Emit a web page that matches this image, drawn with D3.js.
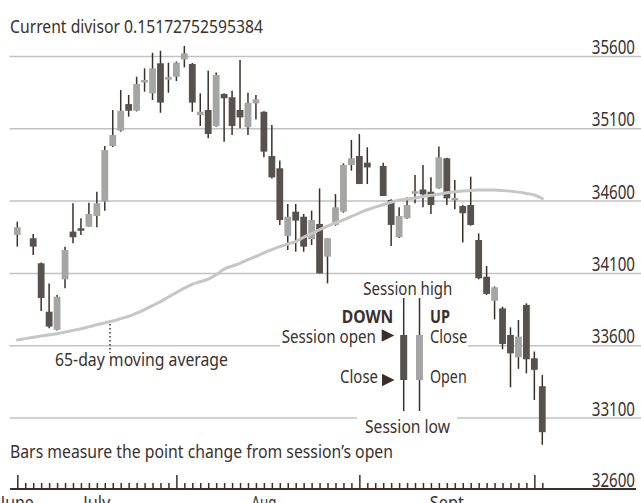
<!DOCTYPE html>
<html><head><meta charset="utf-8">
<script src="https://cdn.jsdelivr.net/npm/d3@7"></script>
<style>
body{margin:0;background:#fff}
svg{display:block}
text{font-family:"Noto Sans",sans-serif;fill:#3a312d}
</style>
</head><body>
<svg id="c" width="641" height="503"></svg>
<script>
// ---------- data ----------
const dates = ["2023-07-03","2023-07-05","2023-07-06","2023-07-07","2023-07-10","2023-07-11","2023-07-12","2023-07-13","2023-07-14",
"2023-07-17","2023-07-18","2023-07-19","2023-07-20","2023-07-21","2023-07-24","2023-07-25","2023-07-26","2023-07-27","2023-07-28",
"2023-07-31","2023-08-01","2023-08-02","2023-08-03","2023-08-04","2023-08-07","2023-08-08","2023-08-09","2023-08-10","2023-08-11",
"2023-08-14","2023-08-15","2023-08-16","2023-08-17","2023-08-18","2023-08-21","2023-08-22","2023-08-23","2023-08-24","2023-08-25",
"2023-08-28","2023-08-29","2023-08-30","2023-08-31","2023-09-01","2023-09-05","2023-09-06","2023-09-07","2023-09-08",
"2023-09-11","2023-09-12","2023-09-13","2023-09-14","2023-09-15","2023-09-18","2023-09-19","2023-09-20","2023-09-21","2023-09-22",
"2023-09-25","2023-09-26","2023-09-27","2023-09-28","2023-09-29","2023-10-02","2023-10-03"];
const openV  = [34366,34343,34170,33835,33709,34059,34389,34412,34423,34497,34596,34981,35087,35271,35225,35421,35345,35553,35442,
35460,35580,35548,35195,35230,35119,35341,35318,35230,35110,35276,35218,34912,34827,34359,34527,34492,34336,34442,34216,
34435,34527,34850,34912,34866,34843,34608,34350,34481,34654,34680,34665,34688,34896,34608,34566,34573,34331,34077,
33911,33858,33674,33520,33882,33513,33320];
const highV  = [34458,34373,34175,34031,33951,34285,34585,34481,34589,34665,34981,35230,35368,35334,35460,35518,35626,35640,35557,
35565,35673,35555,35345,35502,35490,35345,35364,35576,35350,35334,35222,35126,34880,34580,34580,34511,34534,34688,34343,
34649,34861,35023,35064,34972,34866,34612,34557,34626,34781,34850,34765,34977,34900,34746,34573,34769,34377,34151,
34010,33870,33727,33778,33893,33560,33398];
const lowV   = [34285,34227,33840,33720,33705,33997,34308,34366,34423,34419,34534,34975,35080,35184,35220,35357,35299,35211,35350,
35430,35525,35218,35119,35034,35115,35011,35057,35103,35057,35165,34903,34757,34435,34262,34250,34250,34296,34100,34031,
34430,34520,34810,34718,34718,34635,34290,34345,34478,34585,34557,34511,34685,34573,34543,34313,34430,34059,33951,
33782,33575,33312,33440,33409,33225,32915];
const closeV = [34419,34285,33930,33732,33939,34262,34350,34395,34511,34585,34953,35057,35225,35225,35410,35437,35518,35281,35456,
35557,35622,35281,35218,35064,35472,35311,35119,35179,35281,35304,34942,34764,34469,34492,34465,34285,34469,34100,34343,
34557,34850,34896,34718,34833,34635,34435,34497,34573,34665,34646,34573,34903,34619,34619,34516,34435,34066,33958,
34004,33612,33547,33663,33506,33433,33002];
const ma65   = [33640,33658,33667,33675,33683,33694,33706,33717,33731,33745,33758,33771,33787,33803,33825,33850,33877,33905,33937,
33968,33998,34025,34042,34060,34090,34130,34150,34170,34195,34218,34242,34264,34285,34303,34320,34350,34375,34402,34427,
34450,34470,34495,34518,34540,34575,34592,34607,34615,34622,34632,34640,34648,34658,34665,34670,34674,34676,34677,
34676,34673,34669,34662,34653,34642,34618];
const yTicks = [35600,35100,34600,34100,33600,33100,32600];
const majorTickDates = ["2023-07-03","2023-07-31","2023-08-31","2023-10-02"];
const monthLabels  = ["June","July","Aug","Sept"];
const monthAnchors = ["2023-07-03","2023-07-17","2023-08-15","2023-09-15"];

// ---------- setup ----------
const svg = d3.select("#c");
const INK = "#3a2f2b", DARK = "#57524e", LIGHT = "#a5a5a3", GRID = "#c2c2c2";
const fmt = d3.timeFormat("%Y-%m-%d"), parse = d3.timeParse("%Y-%m-%d");
const allDays = d3.timeDay.range(parse(dates[0]), d3.timeDay.offset(parse(dates[dates.length-1]),1))
  .filter(d => d.getDay() !== 0 && d.getDay() !== 6).map(fmt);
const x = d3.scalePoint().domain(allDays).range([17.3, 542.3]);
const y = d3.scaleLinear().domain([32600, 35600]).range([490.3, 56.5]);
const bars = dates.map((d,i)=>({d, o:openV[i], h:highV[i], l:lowV[i], c:closeV[i], m:ma65[i]}));

function txt(g, s, x0, yb, size, w, bold){
  const t = g.append("text").attr("x", x0).attr("y", yb).attr("font-size", size).text(s);
  if (bold) t.attr("font-weight", "bold");
  if (w) t.attr("textLength", w).attr("lengthAdjust", "spacingAndGlyphs");
  return t;
}

// ---------- gridlines ----------
const gaps = {33600:[[280,468]], 33100:[[357,457]]};
const gridG = svg.append("g");
yTicks.filter(v => v !== 32600).forEach(v => {
  let segs = [[9.5, 641]];
  (gaps[v]||[]).forEach(([a,b]) => {
    segs = segs.flatMap(([s,e]) => [[s, Math.min(e,a)], [Math.max(s,b), e]]).filter(([s,e]) => e > s);
  });
  segs.forEach(([s,e]) => gridG.append("line").attr("x1", s).attr("x2", e)
    .attr("y1", y(v)).attr("y2", y(v)).attr("stroke", GRID).attr("stroke-width", 1.5));
});
// y labels: condensed by a horizontal scale so the glyphs match the narrow face of the original
const labW = 43.3;
yTicks.forEach(v => {
  const g = svg.append("g").attr("transform", `translate(635,${y(v) - (v===32600 ? 3 : 2.5)})`);
  const t = g.append("text").attr("x", 0).attr("y", 0).attr("font-size", 20.5)
    .attr("text-anchor", "end").text(String(v));
  const nat = t.node().getComputedTextLength();
  g.attr("transform", `translate(635,${y(v) - (v===32600 ? 3 : 2.5)}) scale(${labW/nat},1)`);
});

// ---------- x axis ----------
const axisY = 489;
const ax = svg.append("g").attr("transform", `translate(0,${axisY})`)
  .call(d3.axisTop(x).tickSize(6).tickSizeOuter(0).tickFormat(""));
ax.select(".domain").remove();
ax.selectAll(".tick line").attr("stroke", INK).attr("stroke-width", 1.5)
  .attr("y2", d => majorTickDates.includes(d) ? -14 : -6);
svg.append("line").attr("x1", 10).attr("x2", 636).attr("y1", axisY).attr("y2", axisY)
  .attr("stroke", INK).attr("stroke-width", 2);
const mW = {June:33, July:27, Aug:25, Sept:34};
monthLabels.forEach((m,i) => {
  const cx = x(monthAnchors[i]);
  txt(svg, m, Math.max(0, cx - mW[m]/2), 509, 18.5, mW[m]);
});

// ---------- candles ----------
const cg = svg.append("g");
const bw = 6.8;
cg.selectAll("line.w").data(bars).join("line").attr("class","w")
  .attr("x1", d => x(d.d)).attr("x2", d => x(d.d))
  .attr("y1", d => y(d.h)).attr("y2", d => y(d.l))
  .attr("stroke", INK).attr("stroke-width", 1.5);
cg.selectAll("rect.b").data(bars).join("rect").attr("class","b")
  .attr("x", d => x(d.d) - bw/2).attr("width", bw)
  .attr("y", d => { const t = y(Math.max(d.o,d.c)), h = Math.abs(y(d.o)-y(d.c)); return h < 2.5 ? t - (2.5-h)/2 : t; })
  .attr("height", d => Math.max(2.5, Math.abs(y(d.o)-y(d.c))))
  .attr("fill", d => d.c >= d.o ? LIGHT : DARK);

// ---------- moving average ----------
svg.append("path").datum(bars)
  .attr("d", d3.line().x(d => x(d.d)).y(d => y(d.m)).curve(d3.curveMonotoneX))
  .attr("fill", "none").attr("stroke", "#c6c6c6").attr("stroke-width", 3).attr("stroke-linecap", "round");

// ---------- annotations ----------
txt(svg, "Current divisor 0.15172752595384", 10, 33, 18.5, 253);
svg.append("line").attr("x1", 110).attr("x2", 110).attr("y1", 324).attr("y2", 353)
  .attr("stroke", INK).attr("stroke-width", 1.5).attr("stroke-dasharray", "1.5,2.5");
txt(svg, "65-day moving average", 55, 366, 18.5, 173);
txt(svg, "Bars measure the point change from session\u2019s open", 10, 458, 18.5, 383);

// legend
const lg = svg.append("g");
txt(lg, "Session high", 363.3, 295, 18.5, 89);
txt(lg, "DOWN", 341.7, 323.3, 17.5, 51.6, true);
txt(lg, "UP", 430, 323.3, 17.5, 20, true);
txt(lg, "Session open", 281.7, 343, 18.5, 94.3);
txt(lg, "Close", 430, 343, 18.5, 37.3);
txt(lg, "Close", 340, 383, 18.5, 38);
txt(lg, "Open", 430, 383, 18.5, 36.7);
txt(lg, "Session low", 365, 433, 18.5, 85);
const tri = (x0, cy) => `M${x0},${cy-6.3}L${x0+12.6},${cy}L${x0},${cy+6.3}Z`;
lg.append("path").attr("d", tri(381.7, 335.5)).attr("fill", INK);
lg.append("path").attr("d", tri(382, 380)).attr("fill", INK);
[[403.7, DARK],[419.5, LIGHT]].forEach(([cx, col]) => {
  lg.append("line").attr("x1", cx).attr("x2", cx).attr("y1", 298).attr("y2", 411)
    .attr("stroke", INK).attr("stroke-width", 1.5);
  lg.append("rect").attr("x", cx - 3.5).attr("width", 7).attr("y", 335).attr("height", 45).attr("fill", col);
});
</script>
</body></html>
